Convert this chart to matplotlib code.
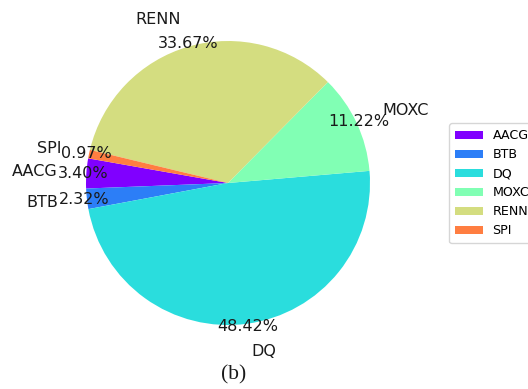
import numpy as np
import matplotlib
matplotlib.use('Agg')
import matplotlib.pyplot as plt

# Portfolio share per ticker
tickers = ['AACG', 'BTB', 'DQ', 'MOXC', 'RENN', 'SPI']
shares = [3.40, 2.32, 48.42, 11.22, 33.67, 0.97]

cmap = plt.get_cmap('rainbow')
slice_colors = cmap(np.arange(len(tickers)) / len(tickers))

W, H = 528, 389
fig = plt.figure(figsize=(W / 100, H / 100), dpi=100)
fig.patch.set_facecolor('white')

# pie centre and radius in pixels
cx, cy, r = 228, 183, 142
ax = fig.add_axes([(cx - r) / W, (H - cy - r) / H, 2 * r / W, 2 * r / H])

wedges, texts, autotexts = ax.pie(
    shares, labels=tickers, colors=slice_colors, startangle=170,
    autopct='%1.2f%%', pctdistance=1.02, labeldistance=1.2,
    textprops=dict(fontsize=11.5, color='#1a1a1a'))
ax.set_xlim(-1, 1)
ax.set_ylim(-1, 1)
ax.set_aspect('equal')

fig.legend(wedges, tickers, loc='upper left',
           bbox_to_anchor=(449 / W, 1 - 123 / H), borderaxespad=0,
           fontsize=9.1, handlelength=2.2, handleheight=0.6,
           labelspacing=0.47, handletextpad=0.75, frameon=True,
           edgecolor='#cccccc', borderpad=0.5)

fig.text(234 / W, 1 - 375 / H, '(b)', ha='center', va='center',
         fontsize=15.5, family='Liberation Serif', color='#1a1a1a')

fig.savefig('out.png', dpi=100, facecolor='white')
